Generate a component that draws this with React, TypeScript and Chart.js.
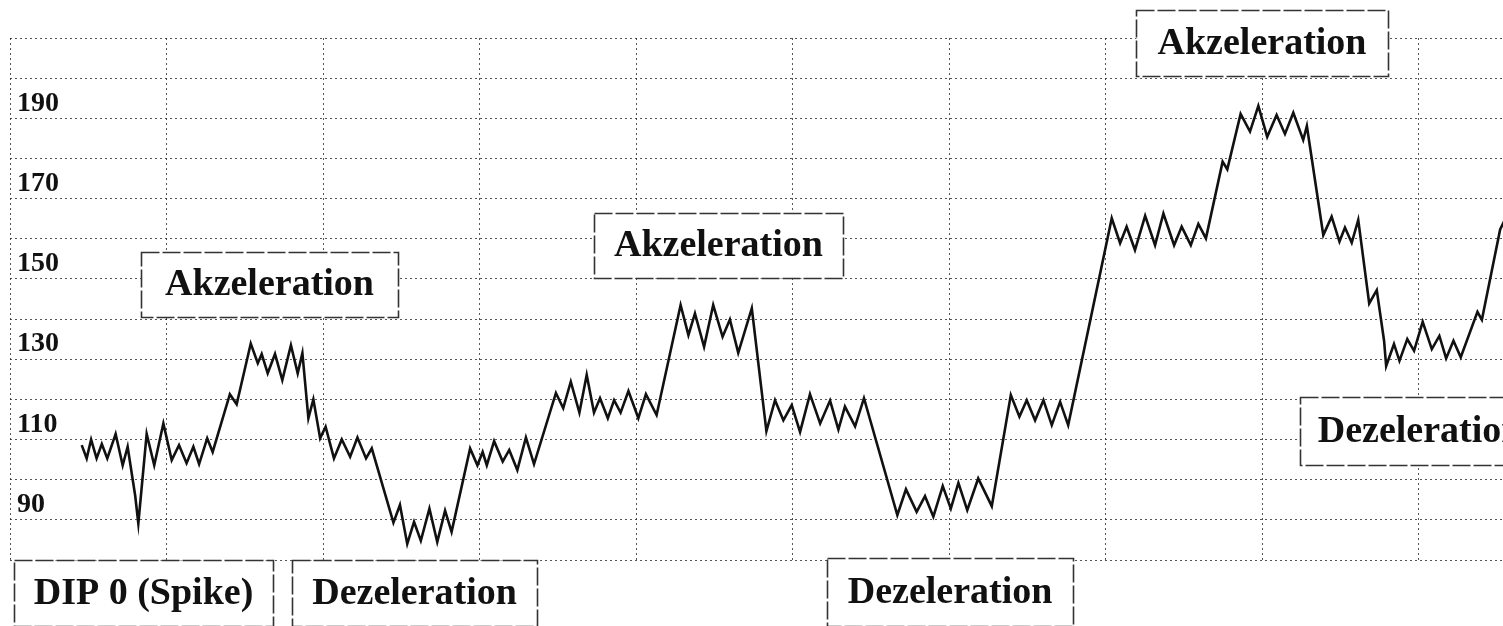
import React, { useEffect, useRef } from "react";
import { Chart, registerables } from "chart.js";

Chart.register(...registerables);

// Time axis in seconds (one vertical grid line per minute)
const timeSec: number[] = [
  27.5, 29.4, 31.1, 33.2, 35.2, 37.3, 40.5, 43.2, 45.1, 48.0,
  49.2, 52.4, 55.3, 58.8, 62.0, 64.8, 67.7, 70.3, 72.5, 75.6,
  77.7, 84.3, 86.9, 92.3, 95.0, 96.5, 98.8, 101.6, 104.4, 107.7,
  110.3, 112.1, 114.4, 116.3, 118.9, 121.0, 124.2, 127.2, 130.4, 133.2,
  136.5, 138.7, 147.0, 149.5, 152.3, 154.9, 157.5, 160.8, 163.8, 166.8,
  169.3, 176.4, 179.2, 181.2, 182.8, 185.6, 188.9, 191.4, 194.5, 197.8,
  200.9, 209.3, 212.1, 215.0, 218.3, 221.1, 223.9, 226.2, 229.2, 231.6,
  234.1, 237.1, 240.9, 243.8, 247.9, 257.1, 260.1, 262.6, 266.1, 269.6,
  273.2, 276.0, 279.2, 284.4, 290.0, 293.3, 296.5, 299.7, 302.9, 306.7,
  310.6, 314.4, 317.6, 320.1, 324.0, 327.4, 340.2, 343.5, 347.6, 350.8,
  354.0, 357.6, 360.7, 363.6, 367.0, 371.2, 376.4, 383.7, 387.0, 389.8,
  393.0, 396.2, 399.4, 402.6, 405.7, 422.4, 425.6, 428.1, 431.3, 435.2,
  439.0, 442.2, 446.3, 449.2, 452.7, 455.6, 458.5, 464.9, 466.7, 471.8,
  475.4, 478.6, 482.0, 485.6, 488.8, 492.0, 495.8, 497.2, 503.5, 506.7,
  509.7, 511.8, 514.4, 516.9, 521.1, 524.0, 526.8, 527.6, 530.6, 532.7,
  535.7, 538.3, 541.6, 545.1, 548.0, 550.6, 553.4, 556.2, 562.6, 564.3,
  571.3, 574.6,
];

// Fetal heart rate (bpm)
const fhr: number[] = [
  108.6, 105.3, 110.0, 105.3, 108.9, 105.3, 111.4, 103.6, 108.2, 96.0,
  89.1, 111.4, 103.6, 114.0, 104.9, 108.6, 104.1, 108.2, 103.9, 110.3,
  106.9, 121.3, 118.8, 133.9, 129.0, 131.3, 126.5, 131.3, 124.8, 133.5,
  126.5, 131.5, 115.3, 120.0, 110.3, 113.2, 105.3, 110.0, 105.7, 110.5,
  105.3, 107.8, 89.3, 93.7, 84.0, 89.5, 84.8, 92.8, 84.5, 92.3,
  87.0, 107.8, 103.6, 106.9, 103.6, 109.6, 104.5, 107.4, 102.4, 110.5,
  103.9, 121.6, 117.8, 124.4, 116.7, 126.1, 116.7, 120.3, 115.3, 119.8,
  116.7, 122.1, 115.3, 121.3, 116.1, 143.5, 136.0, 141.4, 133.1, 143.5,
  135.6, 139.9, 131.6, 142.7, 112.1, 119.8, 114.8, 118.6, 111.9, 121.3,
  114.0, 119.7, 112.5, 118.2, 113.3, 120.3, 91.2, 97.6, 92.0, 95.9,
  90.8, 98.4, 92.8, 99.2, 92.4, 100.3, 93.4, 121.1, 115.7, 119.8,
  114.8, 119.8, 113.6, 119.4, 113.6, 165.1, 158.9, 163.0, 157.2, 165.7,
  158.4, 166.3, 158.4, 163.0, 158.4, 163.7, 160.1, 179.2, 177.3, 191.1,
  186.7, 193.1, 185.4, 190.8, 186.1, 191.4, 184.6, 188.1, 160.9, 165.5,
  159.3, 162.8, 159.0, 164.7, 143.9, 147.2, 134.6, 128.3, 133.8, 129.6,
  135.0, 132.1, 139.3, 132.5, 135.8, 130.2, 134.6, 130.5, 141.8, 139.8,
  162.3, 166.7,
];

// Y tick labels shown
const yTickLabels: number[] = [90, 110, 130, 150, 170, 190];

// Annotation texts and their anchors (time in s, bpm)
const annotationTexts: string[] = [
  "Akzeleration",
  "Akzeleration",
  "Akzeleration",
  "DIP 0 (Spike)",
  "Dezeleration",
  "Dezeleration",
  "Dezeleration",
];
const annotationTime: number[] = [99.5, 271.6, 480.0, 51.2, 155.1, 360.4, 540.6];
const annotationBpm: number[] = [148.6, 158.3, 208.8, 71.8, 71.8, 72.0, 112.1];

const BOX_SIZES: [number, number][] = [
  [257, 65],
  [249, 65],
  [252, 66],
  [259, 66],
  [245, 66],
  [246, 68],
  [240, 68],
];

const SERIF = "'Liberation Serif', 'Times New Roman', Times, serif";

const boxPlugin = {
  id: "ctgBoxes",
  afterDraw(chart: any) {
    const { ctx, scales } = chart;
    const xs = scales.x;
    const ys = scales.y;
    ctx.save();
    annotationTexts.forEach((txt, i) => {
      const cx = xs.getPixelForValue(annotationTime[i]);
      const cy = ys.getPixelForValue(annotationBpm[i]);
      const [w, h] = BOX_SIZES[i];
      const l = Math.round(cx - w / 2) + 0.5;
      const t = Math.round(cy - h / 2) + 0.5;
      ctx.fillStyle = "#ffffff";
      ctx.fillRect(l, t, w, h);
      ctx.setLineDash([18, 3]);
      ctx.lineWidth = 1.6;
      ctx.strokeStyle = "#333333";
      ctx.strokeRect(l, t, w, h);
      ctx.setLineDash([]);
      ctx.fillStyle = "#111111";
      ctx.font = `bold 38px ${SERIF}`;
      ctx.textAlign = "center";
      ctx.textBaseline = "middle";
      ctx.fillText(txt, cx, cy + 1);
    });
    ctx.restore();
  },
};

export default function App() {
  const canvasRef = useRef<HTMLCanvasElement | null>(null);

  useEffect(() => {
    const canvas = canvasRef.current;
    if (!canvas) return;
    const points = timeSec.map((t, i) => ({ x: t, y: fhr[i] }));
    const gridColor = "rgba(30,30,30,0.75)";
    const chart = new Chart(canvas, {
      type: "line",
      data: {
        datasets: [
          {
            data: points,
            borderColor: "#111111",
            borderWidth: 2.6,
            pointRadius: 0,
            tension: 0,
            fill: false,
          },
        ],
      },
      options: {
        animation: false,
        responsive: false,
        devicePixelRatio: 1,
        layout: { padding: { left: 10, top: 38, right: 5, bottom: 66 } },
        plugins: {
          legend: { display: false },
          tooltip: { enabled: false },
          title: { display: false },
        },
        scales: {
          x: {
            type: "linear",
            min: 0,
            max: 600,
            ticks: { display: false, stepSize: 60 },
            grid: { color: gridColor, lineWidth: 1, drawTicks: false },
            border: { display: false, dash: [2, 3] },
            afterFit: (s: any) => {
              s.height = 0;
            },
          },
          y: {
            type: "linear",
            min: 80,
            max: 210,
            afterFit: (s: any) => {
              s.width = 0;
            },
            ticks: {
              stepSize: 10,
              autoSkip: false,
              mirror: true,
              padding: 7,
              labelOffset: -15,
              color: "#111111",
              font: { family: SERIF, size: 28, weight: "bold" },
              callback: (v: any) =>
                yTickLabels.includes(Number(v)) ? String(v) : "",
            },
            grid: { color: gridColor, lineWidth: 1, drawTicks: false },
            border: { display: false, dash: [2, 3] },
          },
        },
      },
      plugins: [boxPlugin],
    });
    return () => chart.destroy();
  }, []);

  return (
    <div
      style={{
        position: "fixed",
        left: 0,
        top: 0,
        width: 1503,
        height: 626,
        overflow: "hidden",
        background: "#ffffff",
      }}
    >
      <canvas
        ref={canvasRef}
        width={1580}
        height={626}
        style={{ display: "block", width: 1580, height: 626 }}
      />
    </div>
  );
}
